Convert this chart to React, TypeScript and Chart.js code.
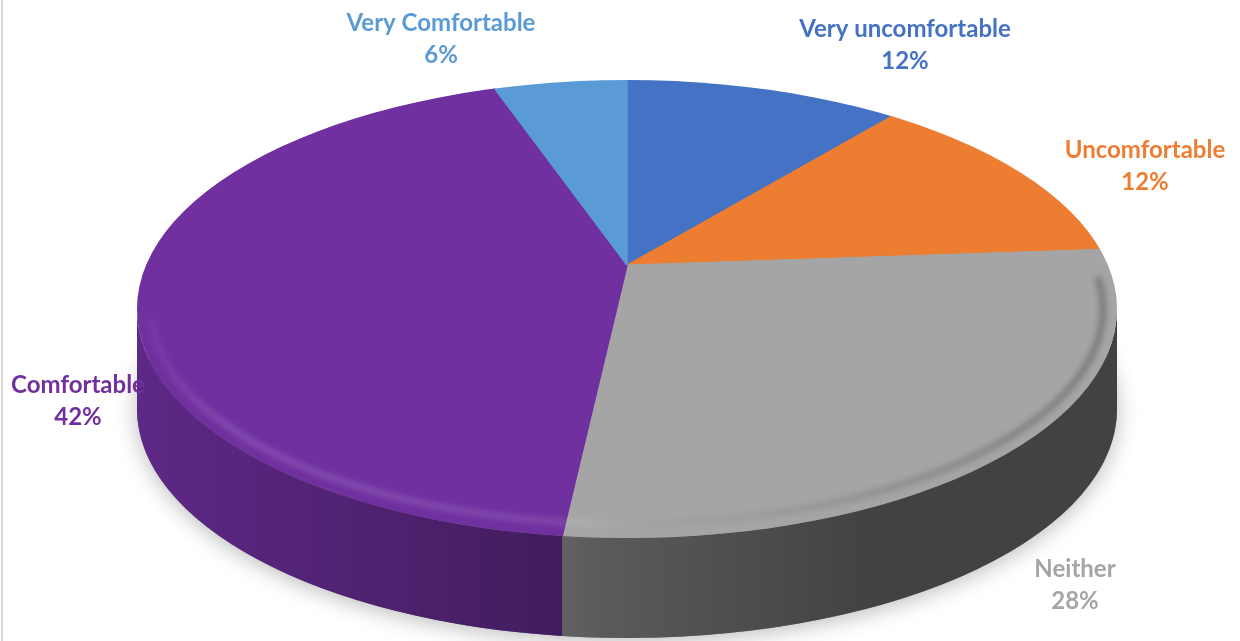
import React, { useEffect, useRef } from "react";
import { Chart, registerables } from "chart.js";

Chart.register(...registerables);

// ---------- data ----------
const categories = ["Very uncomfortable", "Uncomfortable", "Neither", "Comfortable", "Very Comfortable"];
const values = [12, 12, 28, 42, 6];
const sliceColors = ["#4472C4", "#ED7D31", "#A5A5A5", "#7030A0", "#5B9BD5"];
const labelColors = ["#4472C4", "#ED7D31", "#A5A5A5", "#7030A0", "#5B9BD5"];

// ---------- layout ----------
const W = 1240;
const H = 641;
const CX = 627; // ellipse centre of the top face (rim)
const CY = 309;
const RX = 490;
const RY = 229;
const DEPTH = 100;
// apex where the slices meet (perspective makes it sit above the rim centre)
const AX = 627;
const AY = 265;
const PRX = 540; // radii of the projected pie before clipping to the rim
const PRY = 285;
// label anchors: [centre x, first-line baseline y]
const LABEL_POS: [number, number][] = [
  [905, 37],
  [1145, 158],
  [1075, 577],
  [78, 393],
  [441, 31],
];
const LINE_GAP = 32;
const FONT = "bold 24px Lato, 'Open Sans', sans-serif";

// chart angle a -> parametric angle on the rim ellipse where that slice edge meets it
function rimAngle(a: number): number {
  const dx = Math.cos(a) * PRX;
  const dy = Math.sin(a) * PRY;
  const ux0 = (AX - CX) / RX;
  const vy0 = (AY - CY) / RY;
  const ux = dx / RX;
  const vy = dy / RY;
  const qa = ux * ux + vy * vy;
  const qb = 2 * (ux0 * ux + vy0 * vy);
  const qc = ux0 * ux0 + vy0 * vy0 - 1;
  const t = (-qb + Math.sqrt(qb * qb - 4 * qa * qc)) / (2 * qa);
  const px = AX + dx * t;
  const py = AY + dy * t;
  let th = Math.atan2((py - CY) / RY, (px - CX) / RX);
  while (th < a - Math.PI) th += Math.PI * 2;
  while (th > a + Math.PI) th -= Math.PI * 2;
  return th;
}

const pie3d = {
  id: "pie3d",
  beforeDatasetsDraw(chart: any) {
    const ctx: CanvasRenderingContext2D = chart.ctx;
    const arcs = chart.getDatasetMeta(0).data as any[];
    if (!arcs.length) return;
    const p = arcs[0].getProps(["x", "y", "outerRadius"], true);

    // soft drop shadow under the disc
    ctx.save();
    ctx.shadowColor = "rgba(0,0,0,0.28)";
    ctx.shadowBlur = 22;
    ctx.shadowOffsetY = 3;
    ctx.fillStyle = "#777";
    ctx.beginPath();
    ctx.ellipse(CX, CY + DEPTH, RX, RY, 0, 0, Math.PI * 2);
    ctx.fill();
    ctx.restore();

    // side walls (front half only)
    const shade = ctx.createLinearGradient(CX - RX, 0, CX + RX, 0);
    shade.addColorStop(0, "rgba(0,0,0,0.16)");
    shade.addColorStop(0.445, "rgba(0,0,0,0.42)");
    shade.addColorStop(0.47, "rgba(0,0,0,0.45)");
    shade.addColorStop(0.75, "rgba(0,0,0,0.6)");
    shade.addColorStop(1, "rgba(0,0,0,0.6)");
    arcs.forEach((arc: any, i: number) => {
      const a = arc.getProps(["startAngle", "endAngle"], true);
      const s = Math.max(rimAngle(a.startAngle), 0);
      const e = Math.min(rimAngle(a.endAngle), Math.PI);
      if (e <= s) return;
      ctx.beginPath();
      ctx.ellipse(CX, CY, RX, RY, 0, s, e);
      ctx.ellipse(CX, CY + DEPTH, RX, RY, 0, e, s, true);
      ctx.closePath();
      ctx.fillStyle = sliceColors[i];
      ctx.fill();
      ctx.fillStyle = shade;
      ctx.fill();
    });

    // top face: library slices, projected and clipped to the rim ellipse
    ctx.save();
    ctx.beginPath();
    ctx.ellipse(CX, CY, RX, RY, 0, 0, Math.PI * 2);
    ctx.clip();
    ctx.translate(AX, AY);
    ctx.scale(PRX / p.outerRadius, PRY / p.outerRadius);
    ctx.translate(-p.x, -p.y);
  },
  afterDatasetsDraw(chart: any) {
    const ctx: CanvasRenderingContext2D = chart.ctx;
    ctx.restore();

    // bevel on the rim of the top face
    ctx.save();
    ctx.beginPath();
    ctx.ellipse(CX, CY, RX, RY, 0, 0, Math.PI * 2);
    ctx.clip();
    ctx.filter = "blur(3px)";
    const g = ctx.createLinearGradient(CX - RX, 0, CX + RX, 0);
    g.addColorStop(0, "rgba(255,255,255,0.05)");
    g.addColorStop(0.1, "rgba(255,255,255,0.2)");
    g.addColorStop(0.45, "rgba(255,255,255,0.16)");
    g.addColorStop(0.6, "rgba(0,0,0,0.05)");
    g.addColorStop(1, "rgba(0,0,0,0.35)");
    ctx.strokeStyle = g;
    ctx.lineWidth = 5;
    ctx.beginPath();
    ctx.ellipse(CX, CY, RX - 14, RY - 14, 0, -0.15, Math.PI - 0.05);
    ctx.stroke();
    ctx.restore();
  },
  afterDraw(chart: any) {
    const ctx: CanvasRenderingContext2D = chart.ctx;
    const total = values.reduce((s, v) => s + v, 0);
    ctx.save();
    ctx.font = FONT;
    ctx.textAlign = "center";
    ctx.textBaseline = "alphabetic";
    categories.forEach((c, i) => {
      const [lx, ly] = LABEL_POS[i];
      ctx.fillStyle = labelColors[i];
      ctx.fillText(c, lx, ly);
      ctx.fillText(`${Math.round((values[i] / total) * 100)}%`, lx, ly + LINE_GAP);
    });
    // chart frame (left edge visible)
    ctx.fillStyle = "#d9d9d9";
    ctx.fillRect(1, 0, 2, H);
    ctx.restore();
  },
};

export default function App() {
  const ref = useRef<HTMLCanvasElement | null>(null);
  useEffect(() => {
    if (!ref.current) return;
    const chart = new Chart(ref.current, {
      type: "pie",
      data: {
        labels: categories,
        datasets: [
          {
            data: values,
            backgroundColor: sliceColors,
            borderColor: sliceColors,
            borderWidth: 1,
            clip: false as any,
          },
        ],
      },
      options: {
        responsive: false,
        animation: false,
        devicePixelRatio: 1,
        layout: { padding: 0 },
        plugins: {
          legend: { display: false },
          tooltip: { enabled: false },
        },
      },
      plugins: [pie3d],
    });
    return () => chart.destroy();
  }, []);
  return (
    <div style={{ position: "absolute", left: 0, top: 0, width: W, height: H, background: "#fff" }}>
      <canvas ref={ref} width={W} height={H} style={{ display: "block" }} />
    </div>
  );
}
